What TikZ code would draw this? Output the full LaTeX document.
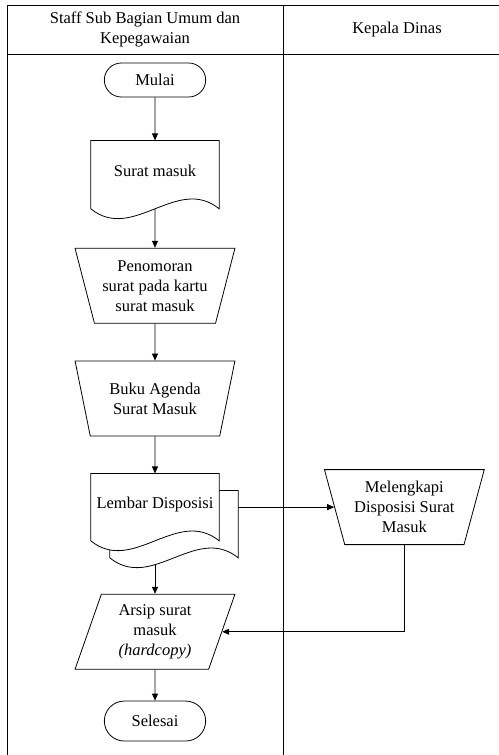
\documentclass[tikz,border=0pt]{standalone}
\usepackage{fontspec}
\setmainfont{Liberation Serif}
\usetikzlibrary{arrows.meta,positioning,shapes.geometric,shapes.misc,backgrounds,calc}

% outline of a document symbol round a node
\newcommand{\docline}[1]{%
  \draw[shape line, fill=white] (#1.south west) -- (#1.north west) -- (#1.north east) -- (#1.south east)
    .. controls +(-42pt,34pt) and +(42pt,-34pt) .. (#1.south west) -- cycle;}

\begin{document}
\begin{tikzpicture}[
    x=1pt, y=-1pt,
    font=\fontsize{16.5}{20}\selectfont,
    node distance=37pt,
    lane/.style={line width=1pt},
    shape line/.style={line width=0.8pt},
    term/.style={draw, shape line, rounded rectangle, minimum width=108pt, minimum height=34pt},
    docbox/.style={minimum width=128pt, minimum height=68pt, inner sep=0pt, text depth=8pt, align=center},
    manual/.style={draw, shape line, trapezium, trapezium angle=72, shape border rotate=180, trapezium stretches=true, minimum width=160pt, minimum height=75pt, inner sep=1pt, align=center},
    dataio/.style={draw, shape line, trapezium, trapezium left angle=72, trapezium right angle=108, trapezium stretches=true, minimum width=160pt, minimum height=75pt, inner sep=1pt, align=center},
    arrow/.style={-{Triangle[length=7pt,width=6pt]}, line width=0.8pt}
]
    \useasboundingbox (0,0) rectangle (498,755);
    % swimlanes
    \draw[lane] (7,760) -- (7,5) -- (515,5);
    \draw[lane] (7,54) -- (515,54);
    \draw[lane] (283,5) -- (283,760);
    \node[align=center] (staff) at (145,29.5) {Staff Sub Bagian Umum dan\\Kepegawaian};
    \node (kadis) at (397,29.5) {Kepala Dinas};

    \node[term] (mulai) at (155,80) {Mulai};
    \node[docbox, below=43pt of mulai] (surat) {Surat masuk};
    \node[manual, below=39pt of surat] (nomor) {Penomoran\\surat pada kartu\\surat masuk};
    \node[manual, below=of nomor] (buku) {Buku Agenda\\Surat Masuk};
    \node[docbox, minimum height=67pt, below=of buku] (lembar) {Lembar Disposisi};
    \node[docbox, minimum height=67pt] (lembarbk) at ([shift={(19pt,-17pt)}]lembar.center) {};
    \node[manual, right=115pt of lembar] (lengkap) {Melengkapi\\Disposisi Surat\\Masuk};
    \node[dataio, below=53pt of lembar] (arsip) {Arsip surat\\masuk\\\textit{(hardcopy)}};
    \node[term, minimum height=40pt, below=31pt of arsip] (selesai) {Selesai};

    \begin{scope}[on background layer]
        \docline{surat}
        \docline{lembarbk}
        \docline{lembar}
    \end{scope}

    \coordinate (lbout) at ($(lembarbk.south -| lembar.south)+(0pt,-7pt)$);

    \draw[arrow] (mulai) -- (surat);
    \draw[arrow] (surat) -- (nomor);
    \draw[arrow] (nomor) -- (buku);
    \draw[arrow] (buku) -- (lembar);
    \draw[arrow] (lbout) -- (lbout |- arsip.north);
    \draw[arrow] (arsip) -- (selesai);
    \draw[arrow] (lembarbk.east |- lembar.east) -- (lengkap.west);
    \draw[arrow] (lengkap.south) |- (arsip.east);
\end{tikzpicture}
\end{document}
